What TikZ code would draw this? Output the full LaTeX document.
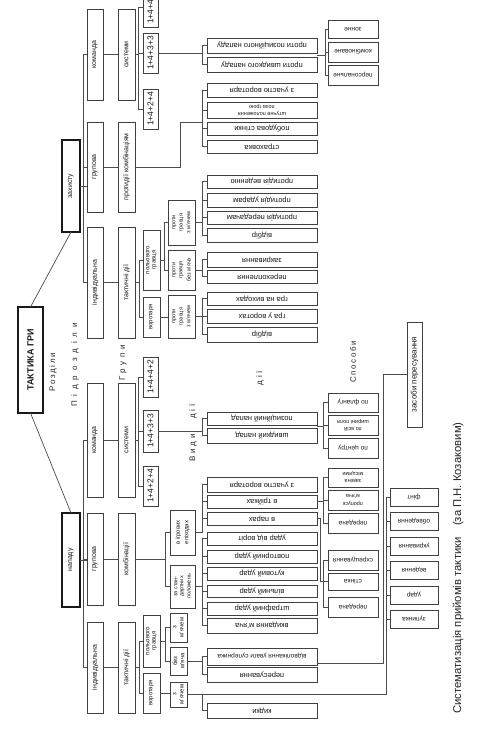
\documentclass[tikz,border=0pt]{standalone}
\usepackage{fontspec}
\setmainfont{Liberation Sans}
\usepackage{graphicx}
\usetikzlibrary{calc}
\newcommand{\VB}[7][]{\node[bx,#1,minimum width={(#4)-(#2)},minimum height={(#5)-(#3)}] (#6) at ({((#2)+(#4))/2},{((#3)+(#5))/2}) {\rotatebox{90}{\shortstack{#7}}};}
\newcommand{\HB}[7][]{\node[bx,#1,minimum width={(#4)-(#2)},minimum height={(#5)-(#3)}] (#6) at ({((#2)+(#4))/2},{((#3)+(#5))/2}) {\rotatebox{180}{\shortstack{#7}}};}
\tikzset{
 bx/.style={draw=black!75,line width=0.55pt,inner sep=0pt,outer sep=0pt,fill=white,text=black!90},
 ln/.style={draw=black!70,line width=0.5pt},
 rootbox/.style={line width=1.6pt,draw=black!90,font=\bfseries\fontsize{9}{10}\selectfont},
 levone/.style={line width=1.1pt,draw=black!90,font=\fontsize{7}{8}\selectfont},
 f85/.style={font=\fontsize{8.5}{9}\selectfont},
 f8/.style={font=\fontsize{8}{9}\selectfont},
 f75/.style={font=\fontsize{7.5}{8}\selectfont},
 f7/.style={font=\fontsize{7}{8}\selectfont},
 f65/.style={font=\fontsize{6.5}{7}\selectfont},
 f6/.style={font=\fontsize{6}{6.5}\selectfont},
 f55/.style={font=\fontsize{5.5}{6}\selectfont},
 lbl/.style={text=black!85,inner sep=0pt,rotate=90},
}
\begin{document}
\begin{tikzpicture}[x=1pt,y=-1pt]
\useasboundingbox (0,0) rectangle (478,749);
\fill[white] (0,0) rectangle (478,749);
\clip (0,0) rectangle (478,749);
% root and level 1
\VB[rootbox]{18}{307}{43}{413}{root}{ТАКТИКА ГРИ}
\VB[levone]{62}{140}{80}{232}{zah}{захисту}
\VB[levone]{62}{513}{80}{607}{nap}{нападу}
% level 2
\VB[f7]{87}{9}{103}{100}{dk}{команда}
\VB[f7]{87}{122}{103}{212}{dg}{групова}
\VB[f7]{87}{227}{103}{338}{di}{індивідуальна}
\VB[f7]{87}{383}{103}{497}{ak}{команда}
\VB[f7]{87}{513}{103}{605}{ag}{групова}
\VB[f7]{87}{622}{103}{713}{ai}{індивідуальна}
% level 3
\VB[f7]{118}{9}{135}{100}{ds}{системи}
\VB[f7]{118}{122}{135}{212}{dpk}{протидії комбінаціям}
\VB[f7]{118}{227}{135}{338}{dtd}{тактичні дії}
\VB[f7]{118}{383}{135}{497}{as}{системи}
\VB[f7]{118}{513}{135}{605}{akb}{комбінації}
\VB[f7]{118}{622}{135}{713}{atd}{тактичні дії}
% level 4
\VB[f85]{143}{-13}{158}{27}{ds1}{1+4+4+2}
\VB[f85]{143}{33}{158}{73}{ds2}{1+4+3+3}
\VB[f85]{143}{89}{158}{129}{ds3}{1+4+2+4}
\VB[f85]{143}{357}{158}{397}{as1}{1+4+4+2}
\VB[f85]{143}{410}{158}{452}{as2}{1+4+3+3}
\VB[f85]{143}{466}{158}{506}{as3}{1+4+2+4}
\VB[f6]{143}{230}{160}{290}{dpg}{польового\\гравця}
\VB[f6]{143}{297}{160}{337}{dvr}{воротаря}
\VB[f6]{143}{615}{160}{667}{apg}{польового\\гравця}
\VB[f6]{143}{673}{160}{713}{avr}{воротаря}
% level 5
\VB[f55]{168}{200}{195}{245}{da}{проти\\гравця\\з м'ячем}
\VB[f55]{168}{250}{195}{290}{db}{проти\\гравця\\без м'яча}
\VB[f55]{168}{295}{195}{338}{dc}{проти\\гравця\\з м'ячем}
\VB[f6]{170}{510}{195}{555}{aa}{в ігрових\\епізодах}
\VB[f55]{170}{565}{195}{608}{ab}{за стан-\\дартних\\положень}
\VB[f6]{170}{613}{187}{642}{ac}{з\\м'ячем}
\VB[f6]{170}{647}{187}{675}{ad}{без\\м'яча}
\VB[f6]{170}{682}{187}{707}{ae}{з\\м'ячем}
% defence leaves
\HB[f75]{207}{38}{317}{53}{la}{проти позиційного нападу}
\HB[f75]{207}{57}{317}{72}{lb}{проти швидкого нападу}
\HB[f75]{207}{83}{317}{97}{lc}{з участю воротаря}
\HB[f55]{207}{102}{317}{118}{ld}{штучне положення\\поза грою}
\HB[f75]{207}{122}{317}{135}{le}{побудова стінки}
\HB[f75]{207}{140}{317}{153}{lf}{страховка}
\HB[f75]{207}{175}{317}{188}{lg}{протидія веденню}
\HB[f75]{207}{193}{317}{207}{lh}{протидія ударам}
\HB[f75]{207}{211}{317}{224}{li}{протидія передачам}
\HB[f75]{207}{228}{317}{242}{lj}{відбір}
\HB[f75]{207}{252}{317}{267}{lk}{закривання}
\HB[f75]{207}{270}{317}{283}{ll}{перехоплення}
\HB[f75]{207}{292}{317}{305}{lm}{гра на виходах}
\HB[f75]{207}{309}{317}{323}{ln}{гра у воротах}
\HB[f75]{207}{327}{317}{342}{lo}{відбір}
% attack leaves
\HB[f75]{207}{412}{317}{425}{ma}{позиційний напад}
\HB[f75]{207}{428}{317}{443}{mb}{швидкий напад}
\HB[f75]{207}{477}{317}{492}{mc}{з участю воротаря}
\HB[f75]{207}{495}{317}{508}{md}{в трійках}
\HB[f75]{207}{512}{317}{525}{me}{в парах}
\HB[f75]{207}{532}{317}{545}{mf}{удар від воріт}
\HB[f75]{207}{550}{317}{563}{mg}{повторний удар}
\HB[f75]{207}{567}{317}{580}{mh}{кутовий удар}
\HB[f75]{207}{585}{317}{597}{mi}{вільний удар}
\HB[f75]{207}{602}{317}{615}{mj}{штрафний удар}
\HB[f75]{207}{618}{317}{633}{mk}{вкидання м'яча}
\HB[f65]{207}{648}{317}{665}{ml}{відволікання уваги суперника}
\HB[f75]{207}{667}{317}{682}{mm}{пересування}
\HB[f75]{207}{703}{317}{718}{mn}{кидки}
% right columns
\HB[f65]{328}{20}{378}{38}{ra}{зонне}
\HB[f65]{328}{42}{378}{62}{rb}{комбіноване}
\HB[f65]{328}{65}{378}{85}{rc}{персональне}
\HB[f65]{328}{393}{378}{412}{rd}{по флангу}
\HB[f55]{328}{415}{378}{435}{re}{по всій\\ширині поля}
\HB[f65]{328}{438}{378}{458}{rf}{по центру}
\HB[f55]{328}{468}{378}{487}{rg}{заміна\\місцями}
\HB[f55]{328}{490}{378}{510}{rh}{пропуск\\м'яча}
\HB[f65]{328}{513}{378}{533}{ri}{передача}
\HB[f65]{328}{550}{378}{570}{rj}{схрещування}
\HB[f65]{328}{573}{378}{590}{rk}{стінка}
\HB[f65]{328}{597}{378}{617}{rl}{передача}
\VB[f8]{407}{322}{422}{427}{zp}{засоби пересування}
\HB[f65]{390}{488}{438}{506}{ta}{фінт}
\HB[f65]{390}{512}{438}{530}{tb}{обведення}
\HB[f65]{390}{537}{438}{555}{tc}{укривання}
\HB[f65]{390}{561}{438}{579}{td}{ведення}
\HB[f65]{390}{586}{438}{604}{te}{удар}
\HB[f65]{390}{610}{438}{628}{tf}{зупинка}
% level labels
\node[lbl,font=\fontsize{8}{9}\selectfont\addfontfeatures{LetterSpace=20}] (labA) at (53,372) {Розділи};
\node[lbl,font=\fontsize{8}{9}\selectfont\addfontfeatures{LetterSpace=60}] (labB) at (75,365) {Підрозділи};
\node[lbl,font=\fontsize{8}{9}\selectfont\addfontfeatures{LetterSpace=45}] (labC) at (123,363) {Групи};
\node[lbl,font=\fontsize{8}{9}\selectfont\addfontfeatures{LetterSpace=35}] (labD) at (193,433) {Види\hspace{16pt}дії};
\node[lbl,font=\fontsize{8}{9}\selectfont\addfontfeatures{LetterSpace=35}] (labE) at (260,378) {дії};
\node[lbl,font=\fontsize{8}{9}\selectfont\addfontfeatures{LetterSpace=20}] (labF) at (353,362) {Способи};
\node[lbl,font=\fontsize{11.3}{13}\selectfont] (cap) at (458,568) {Систематизація прийомів тактики\quad(за П.Н. Козаковим)};
% connectors: root
\draw[ln,line width=0.7pt] (root.north) -- (zah.south);
\draw[ln,line width=0.7pt] (root.south) -- (nap.north);
% level 1 -> 2
\draw[ln] (dk.west) -- ++(-4,0) |- (di.west);
\draw[ln] (dg.west) -- ++(-4,0);
\draw[ln] (zah.east) -- (zah.east -| dg.west);
\draw[ln] (ak.west) -- ++(-4,0) |- (ai.west);
\draw[ln] (ag.west) -- ++(-4,0);
\draw[ln] (nap.east) -- (nap.east -| ag.west);
% level 2 -> 3
\draw[ln] (dk.east) -- (ds.west);
\draw[ln] (dg.east) -- (dpk.west);
\draw[ln] (di.east) -- (dtd.west);
\draw[ln] (ak.east) -- (as.west);
\draw[ln] (ag.east) -- (akb.west);
\draw[ln] (ai.east) -- (atd.west);
% level 3 -> 4
\draw[ln] (ds1.west) -- ++(-5,0) |- (ds3.west);
\draw[ln] (ds2.west) -- ++(-5,0);
\draw[ln] (ds.east) -- ++(3,0);
\draw[ln] (as1.west) -- ++(-5,0) |- (as3.west);
\draw[ln] (as2.west) -- ++(-5,0);
\draw[ln] (as.east) -- ++(3,0);
\draw[ln] (dpg.west) -- ++(-4,0) |- (dvr.west);
\draw[ln] (dtd.east) -- ++(4,0);
\draw[ln] (apg.west) -- ++(-4,0) |- (avr.west);
\draw[ln] (atd.east) -- ++(4,0);
% level 4 -> 5
\draw[ln] (da.west) -- ++(-4,0) |- (db.west);
\draw[ln] (dpg.east) -- ++(4,0);
\draw[ln] (dvr.east) -- (dvr.east -| dc.west);
\draw[ln] (aa.west) -- ++(-5,0) |- (ab.west);
\draw[ln] (akb.east) -- ++(30,0);
\draw[ln] (ac.west) -- ++(-5,0) |- (ad.west);
\draw[ln] (apg.east) -- ++(5,0);
\draw[ln] (avr.east) -- (avr.east -| ae.west);
% defence leaves
\draw[ln] (ds2.east) -- ++(44,0);
\draw[ln] (la.west) -- ++(-5,0) |- (lb.west);
\draw[ln] (dpk.east) -- ++(45,0) -- ++(0,-45) -- ++(22,0);
\draw[ln] (lc.west) -- ++(-5,0) |- (lf.west);
\draw[ln] (ld.west) -- ++(-5,0);
\draw[ln] (le.west) -- ++(-5,0);
\draw[ln] (da.east) -- ++(7,0);
\draw[ln] (lg.west) -- ++(-5,0) |- (lj.west);
\draw[ln] (lh.west) -- ++(-5,0);
\draw[ln] (li.west) -- ++(-5,0);
\draw[ln] (db.east) -- ++(7,0);
\draw[ln] (lk.west) -- ++(-5,0) |- (ll.west);
\draw[ln] (dc.east) -- ++(7,0);
\draw[ln] (lm.west) -- ++(-5,0) |- (lo.west);
\draw[ln] (ln.west) -- ++(-5,0);
% attack leaves
\draw[ln] (as2.east) -- ++(44,0);
\draw[ln] (ma.west) -- ++(-5,0) |- (mb.west);
\draw[ln] (mc.west) -- ++(-5,0) |- (aa.east);
\draw[ln] (md.west) -- ++(-5,0);
\draw[ln] (me.west) -- ++(-5,0);
\draw[ln] (mf.west) -- ++(-5,0) |- (mk.west);
\foreach \n in {mg,mh,mi,mj} \draw[ln] (\n.west) -- ++(-5,0);
\draw[ln] (ab.east) -- ++(7,0);
\draw[ln] (ml.west) -- ++(-5,0) |- (mm.west);
\draw[ln] (ad.east) -- ++(15,0);
\draw[ln] (ae.east) -- ([xshift=-4pt]ae.east -| ta.west) |- (ta.west);
\foreach \n in {tb,tc,td,te,tf} \draw[ln] (\n.west) -- ++(-4,0);
\draw[ln] (mn.west) -- ++(-5,0) |- (ae.east);
\draw[ln] ([yshift=-6.5pt]ml.east) -- ++(66,0) |- (zp.west);
% methods
\draw[ln] ($(la.south east)!.5!(lb.north east)$) -- ++(8,0);
\draw[ln] (ra.west) -- ++(-3,0) |- (rc.west);
\draw[ln] (rb.west) -- ++(-3,0);
\draw[ln] ($(ma.south east)!.5!(mb.north east)$) -- ++(6,0);
\draw[ln] (rd.west) -- ++(-5,0) |- (rf.west);
\draw[ln] (re.west) -- ++(-5,0);
\draw[ln] (md.east) -- ++(6,0);
\draw[ln] (rg.west) -- ++(-5,0) |- (ri.west);
\draw[ln] (rh.west) -- ++(-5,0);
\draw[ln] (me.east) -- ++(3,0) |- ([xshift=-5pt]rk.west);
\draw[ln] (rj.west) -- ++(-5,0) |- (rl.west);
\draw[ln] (rk.west) -- ++(-5,0);
\end{tikzpicture}
\end{document}
